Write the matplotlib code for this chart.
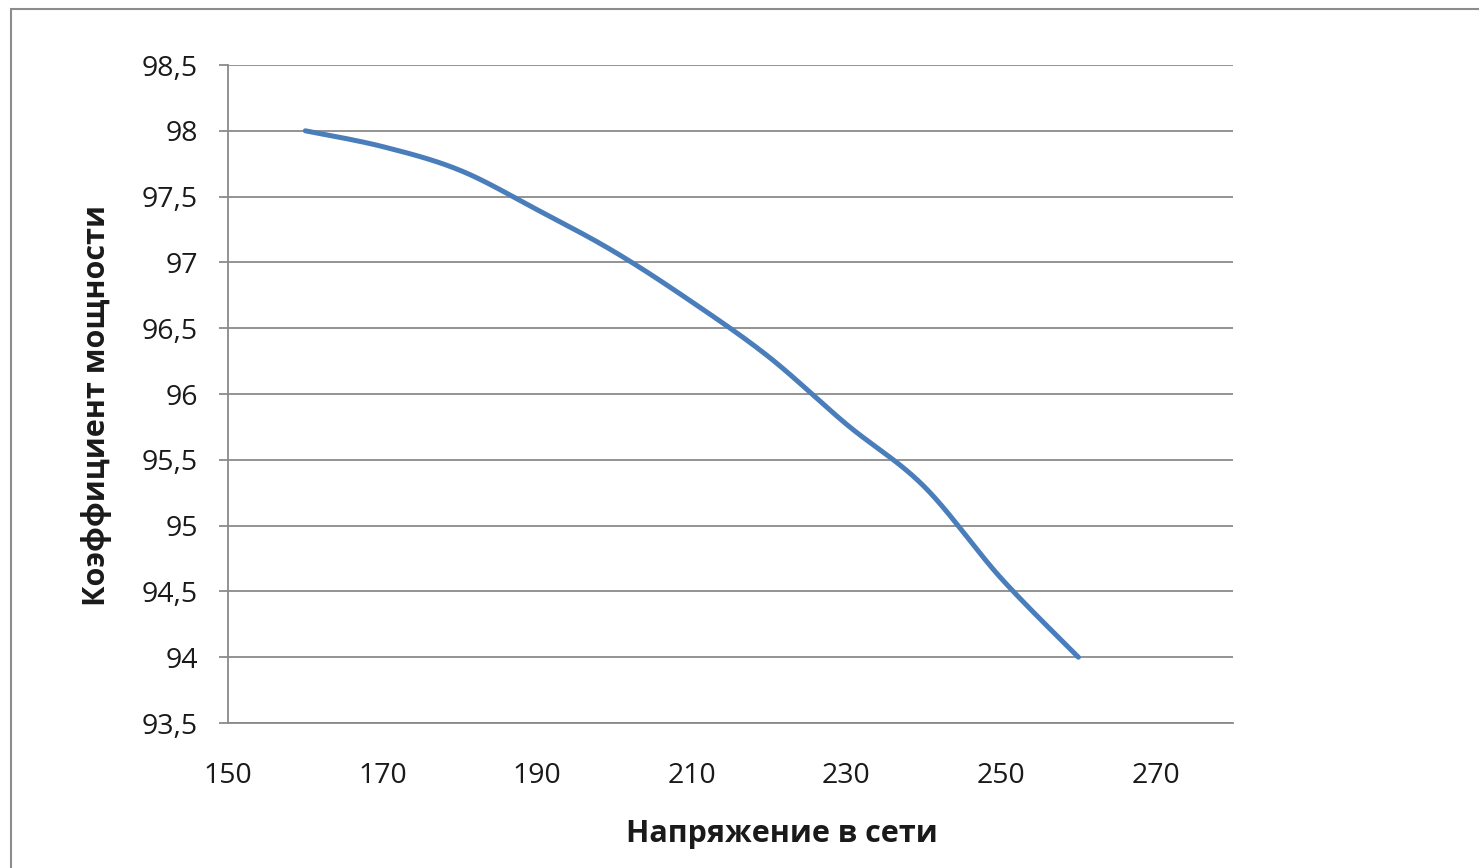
import numpy as np
import matplotlib as mpl
mpl.use('agg')
import matplotlib.pyplot as plt
from matplotlib.patches import Rectangle
from matplotlib.ticker import FuncFormatter, MultipleLocator

# voltage vs power factor
voltage = [160, 170, 180, 190, 200, 210, 220, 230, 240, 250, 260]
power_factor = [98.0, 97.88, 97.7, 97.4, 97.08, 96.7, 96.28, 95.77, 95.3, 94.6, 94.0]

x_label = 'Напряжение в сети'
y_label = 'Коэффициент мощности'


def smooth(xs, ys, n=40):
    # Excel-style smoothed line: Bezier segments with Catmull-Rom controls
    p = np.column_stack([xs, ys]).astype(float)
    ext = np.vstack([p[0], p, p[-1]])
    t = np.linspace(0, 1, n)[:, None]
    out = []
    for i in range(len(p) - 1):
        p0, p3 = ext[i + 1], ext[i + 2]
        c1 = p0 + (ext[i + 2] - ext[i]) / 6.0
        c2 = p3 - (ext[i + 3] - ext[i + 1]) / 6.0
        seg = ((1 - t) ** 3 * p0 + 3 * (1 - t) ** 2 * t * c1
               + 3 * (1 - t) * t ** 2 * c2 + t ** 3 * p3)
        out.append(seg if i == 0 else seg[1:])
    out = np.vstack(out)
    return out[:, 0], out[:, 1]


plt.rcParams['font.family'] = ['Open Sans', 'DejaVu Sans']

W, H = 1479, 868
fig = plt.figure(figsize=(W / 100, H / 100), dpi=100)
fig.patches.append(Rectangle((10.5 / W, -0.1), 1.2, 1.1 - 9.5 / H,
                             transform=fig.transFigure, fill=False,
                             edgecolor='#8c8c8c', lw=1.5))

ax = fig.add_axes([228 / W, 1 - 723 / H, 1005 / W, 658 / H])
sx, sy = smooth(voltage, power_factor)
ax.plot(sx, sy, color='#4a7ebb', lw=3.6, solid_capstyle='round', zorder=3)

ax.set_xlim(150, 280)
ax.set_ylim(93.5, 98.5)
ax.set_xticks(range(150, 271, 20))
ax.yaxis.set_major_locator(MultipleLocator(0.5))
ax.yaxis.set_major_formatter(FuncFormatter(
    lambda v, p: ('%g' % round(v, 1)).replace('.', ',')))

ax.grid(axis='y', color='#8a8a8a', lw=1.3)
ax.set_axisbelow(True)
for s in ('top', 'right'):
    ax.spines[s].set_visible(False)
for s in ('left', 'bottom'):
    ax.spines[s].set_color('#8a8a8a')
    ax.spines[s].set_linewidth(1.3)

ax.tick_params(axis='y', length=6.5, width=1.3, color='#8a8a8a', pad=15,
               labelsize=20.5, labelcolor='#1a1a1a')
ax.tick_params(axis='x', length=0, pad=28, labelsize=20.5, labelcolor='#1a1a1a')

fig.text(782 / W, 1 - 834 / H, x_label, ha='center', va='center',
         fontsize=22, fontweight='bold', color='#1a1a1a')
fig.text(97 / W, 1 - 406 / H, y_label, ha='center', va='center',
         rotation=90, fontsize=22, fontweight='bold', color='#1a1a1a')

fig.savefig('out.png', dpi=100)
